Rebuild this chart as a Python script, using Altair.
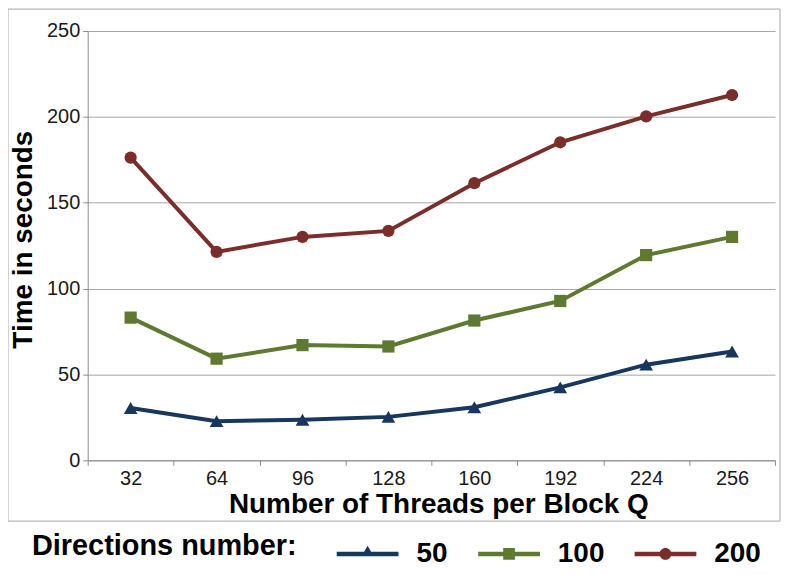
import altair as alt
import pandas as pd

threads = ["32", "64", "96", "128", "160", "192", "224", "256"]
series_names = ["50", "100", "200"]
t50 = [30.5, 22.8, 23.6, 25.3, 30.9, 42.5, 55.7, 63.4]
t100 = [83.1, 59.2, 67.1, 66.3, 81.4, 92.8, 119.5, 130.1]
t200 = [176.3, 121.4, 130.1, 133.6, 161.4, 185.2, 200.3, 212.7]
colors = ["#17375E", "#5F7A30", "#7B2D2A"]
marker_shapes = ["triangle-up", "square", "circle"]
marker_sizes = [190, 150, 150]
y_ticks = [0, 50, 100, 150, 200, 250]

rows = []
for name, vals in zip(series_names, [t50, t100, t200]):
    for q, v in zip(threads, vals):
        rows.append({"Q": q, "series": name, "time": v})
df = pd.DataFrame(rows)

FONT = "Liberation Sans"

# legend symbols: line + marker (custom unit paths)
line_p = "M-1,-0.07H1V0.07H-1Z "
tri_p = line_p + "M-0.2,0.07L0,-0.27L0.2,0.07Z"
sq_p = line_p + "M-0.19,-0.19H0.19V0.19H-0.19Z"
circ_p = line_p + "M0.19,0A0.19,0.19 0 1,1 -0.19,0A0.19,0.19 0 1,1 0.19,0Z"

x_enc = alt.X(
    "Q:O",
    sort=threads,
    scale=alt.Scale(type="band", paddingInner=0, paddingOuter=0),
    axis=alt.Axis(
        title="Number of Threads per Block Q",
        titleFont=FONT, titleFontSize=28, titleFontWeight="bold", titleColor="black",
        titleX=352, titleY=52, titleBaseline="alphabetic", titleAnchor="middle",
        labelFont=FONT, labelFontSize=20, labelColor="#1a1a1a", labelAngle=0,
        labelPadding=3, tickBand="extent", tickSize=5, tickColor="#8c8c8c",
        domainColor="#8c8c8c", grid=False,
    ),
)
y_enc = alt.Y(
    "time:Q",
    scale=alt.Scale(domain=[0, 250], nice=False),
    axis=alt.Axis(
        title="Time in seconds", values=y_ticks,
        titleFont=FONT, titleFontSize=28, titleFontWeight="bold", titleColor="black",
        titleAngle=-90, titleX=-56, titleY=209, titleBaseline="alphabetic", titleAlign="center",
        labelFont=FONT, labelFontSize=20, labelColor="#1a1a1a", labelPadding=3,
        tickSize=5, tickColor="#8c8c8c", domainColor="#8c8c8c",
        grid=True, gridColor="#a6a6a6", gridWidth=1,
    ),
)
color_scale = alt.Scale(domain=series_names, range=colors)
legend_kw = dict(
    title="Directions number:", orient="none", legendX=-56, legendY=494,
    direction="horizontal", titleOrient="left", titleLimit=400,
    titleFont=FONT, titleFontSize=29, titleFontWeight="bold", titleColor="black",
    titlePadding=40, titleBaseline="middle", titleAnchor="middle",
    labelFont=FONT, labelFontSize=28, labelFontWeight="bold", labelColor="black",
    labelOffset=18, columnPadding=30, symbolSize=3844, symbolStrokeWidth=0,
    symbolOpacity=1,
)

base = alt.Chart(df)
lines = base.mark_line(strokeWidth=4).encode(
    x=x_enc, y=y_enc,
    color=alt.Color("series:N", sort=series_names, scale=color_scale, legend=None),
)

point_layers = []
for name, shp, sz in zip(series_names, marker_shapes, marker_sizes):
    point_layers.append(
        base.transform_filter(alt.datum.series == name)
        .mark_point(filled=True, opacity=1, shape=shp, size=sz)
        .encode(
            x=x_enc, y=y_enc,
            color=alt.Color("series:N", sort=series_names, scale=color_scale, legend=None),
        )
    )

# legend-only layer (draws no marks: all rows filtered out)
legend_layer = (
    base.transform_filter("false")
    .mark_point(filled=True, opacity=1)
    .encode(
        x=x_enc, y=y_enc,
        color=alt.Color("series:N", sort=series_names, scale=color_scale,
                        legend=alt.Legend(**legend_kw)),
        shape=alt.Shape("series:N", sort=series_names,
                        scale=alt.Scale(domain=series_names, range=[tri_p, sq_p, circ_p]),
                        legend=alt.Legend(**legend_kw)),
    )
)

frame = alt.Chart(alt.Data(values=[{"f": 1}])).mark_rect(
    fill="transparent", stroke="#a6a6a6", strokeWidth=1
).encode(
    x=alt.value(-80), x2=alt.value(695), y=alt.value(-22), y2=alt.value(492)
)

chart = alt.layer(frame, lines, *point_layers, legend_layer).resolve_legend(
    color="independent", shape="independent"
).properties(
    width=690, height=431,
    autosize=alt.AutoSizeParams(type="none"),
    padding={"left": 80, "top": 22, "right": 8, "bottom": 106},
    background="white",
).configure_view(stroke=None)

chart.save("out.html", embed_options={"renderer": "svg", "actions": False})
